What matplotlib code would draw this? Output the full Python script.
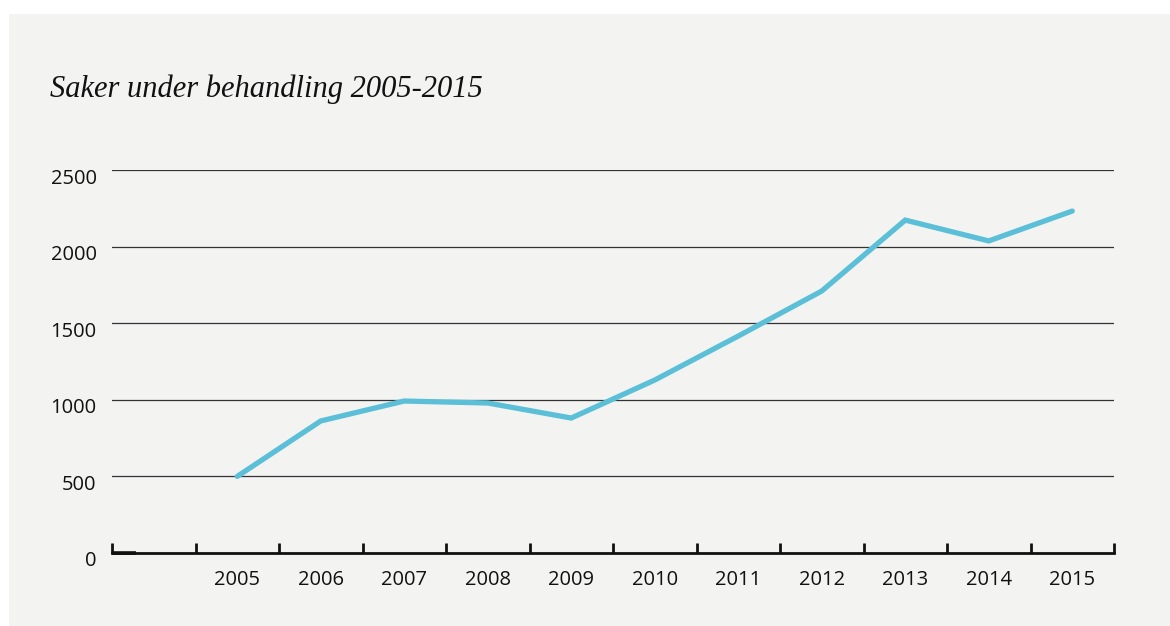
import numpy as np
import matplotlib
matplotlib.use('Agg')
import matplotlib.pyplot as plt
import matplotlib.transforms as mtransforms
from matplotlib.patches import Rectangle

years = ['2005', '2006', '2007', '2008', '2009', '2010',
         '2011', '2012', '2013', '2014', '2015']
cases = [500, 862, 992, 979, 881, 1129, 1416, 1710, 2173, 2037, 2232]
y_ticks = [0, 500, 1000, 1500, 2000, 2500]
title = 'Saker under behandling 2005-2015'

W, H = 1170, 626
fig = plt.figure(figsize=(W / 100, H / 100), dpi=100)
fig.patch.set_facecolor('white')
bg = Rectangle((9 / W, 0), 1 - 9 / W, (H - 14) / H,
               transform=fig.transFigure, facecolor='#f3f3f2',
               edgecolor='none', zorder=-10)
fig.add_artist(bg)

ax = fig.add_axes([112 / W, (H - 553) / H, 1002 / W, 383 / H])
ax.set_facecolor('none')
ax.set_zorder(1)

# one empty slot before 2005, points sit in slot centres
n_slots = len(years) + 1
x = np.arange(1, n_slots) + 0.5
ax.set_xlim(0, n_slots)
ax.set_ylim(0, 2500)

for v in y_ticks[1:]:
    ax.axhline(v, color='#333333', lw=0.9, zorder=1)

ax.plot(x, cases, color='#5bc0d7', lw=3.8, solid_capstyle='round',
        solid_joinstyle='miter', zorder=3)

for s in ['top', 'right', 'left']:
    ax.spines[s].set_visible(False)
ax.spines['bottom'].set_linewidth(2.0)
ax.spines['bottom'].set_color('#111111')
ax.plot([0, 0.29], [0, 0], color='#111111', lw=2.6, clip_on=False,
        solid_capstyle='butt', zorder=4)

ax.set_xticks(np.arange(0, n_slots + 1))
ax.set_xticklabels([])
ax.set_xticks(x, minor=True)
ax.set_xticklabels(years, minor=True)
ax.tick_params(axis='x', which='major', direction='in', length=7.5,
               width=2, color='#111111')
ax.tick_params(axis='x', which='minor', length=0, pad=12)

ax.set_yticks(y_ticks)
ax.set_yticklabels([str(v) for v in y_ticks])
ax.tick_params(axis='y', length=0, pad=11)
shift = mtransforms.ScaledTranslation(0, -6 / 100, fig.dpi_scale_trans)
for lab in ax.get_yticklabels():
    lab.set_transform(lab.get_transform() + shift)
for lab in ax.get_xticklabels(minor=True) + ax.get_yticklabels():
    lab.set_fontfamily('Open Sans')
    lab.set_fontsize(14.5)
    lab.set_color('#111111')

fig.text(50 / W, 1 - 97 / H, title, family='Liberation Serif',
         style='italic', fontsize=22, color='#111111', va='baseline')

fig.savefig('out.png', dpi=100, facecolor=fig.get_facecolor())
